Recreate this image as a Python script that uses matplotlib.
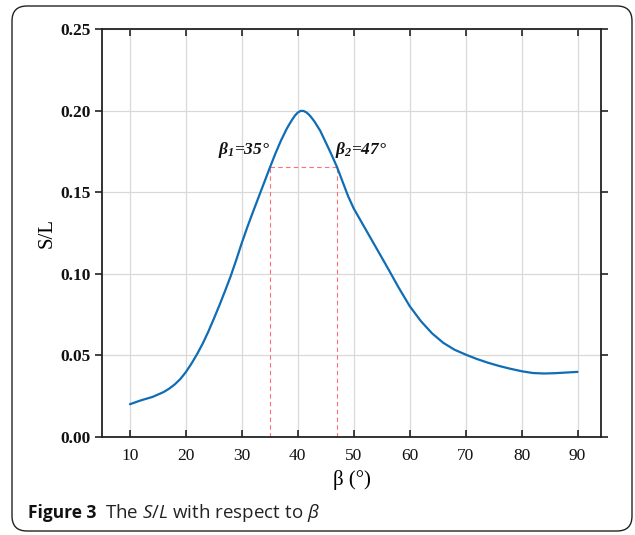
import matplotlib
matplotlib.use("Agg")
import matplotlib.pyplot as plt
from matplotlib.patches import FancyBboxPatch

# S/L ratio as a function of the angle beta (degrees)
beta = [10, 12, 14, 16, 17, 18, 19, 20, 21, 22, 23, 24, 25, 26, 27, 28, 29, 30,
        31, 32, 33, 34, 35, 36, 37, 38, 38.5, 39, 39.5, 40, 40.5, 41, 41.5, 42,
        42.5, 43, 44, 45, 46, 47, 48, 49, 50, 52, 54, 56, 58, 60, 62, 64, 66,
        68, 70, 72, 74, 76, 78, 80, 82, 84, 86, 88, 90]
s_over_l = [0.0201, 0.0225, 0.0245, 0.0275, 0.0296, 0.0322, 0.0355, 0.0398,
            0.0450, 0.0508, 0.0572, 0.0645, 0.0725, 0.0808, 0.0895, 0.0985,
            0.1085, 0.1190, 0.1288, 0.1380, 0.1470, 0.1560, 0.1650, 0.1737,
            0.1817, 0.1887, 0.1917, 0.1945, 0.1970, 0.1988, 0.1998, 0.1998,
            0.1990, 0.1975, 0.1955, 0.1932, 0.1877, 0.1805, 0.1732, 0.1655,
            0.1565, 0.1475, 0.1400, 0.1280, 0.1160, 0.1040, 0.0917, 0.0802,
            0.0710, 0.0635, 0.0577, 0.0535, 0.0505, 0.0478, 0.0455, 0.0435,
            0.0418, 0.0403, 0.0392, 0.0389, 0.0391, 0.0395, 0.0399]

beta_1 = 35
beta_2 = 47
level = 0.1652

x_ticks = [10, 20, 30, 40, 50, 60, 70, 80, 90]
y_ticks = [0.00, 0.05, 0.10, 0.15, 0.20, 0.25]

plt.rcParams["mathtext.fontset"] = "custom"
plt.rcParams["mathtext.rm"] = "Open Sans"
plt.rcParams["mathtext.it"] = "Open Sans:italic"
plt.rcParams["mathtext.bf"] = "Liberation Serif:bold:italic"

fig = plt.figure(figsize=(6.35, 5.35), dpi=100)
ax = fig.add_axes([0.1606, 0.1832, 0.7859, 0.7626])

ax.plot(beta, s_over_l, color="#0f6db5", lw=1.6, zorder=3,
        solid_joinstyle="round", solid_capstyle="round")

# dashed guide lines marking the two angles
dash = dict(color="#ff7070", lw=0.8, ls=(0, (4, 3)), zorder=2)
ax.plot([beta_1, beta_2], [level, level], **dash)
ax.plot([beta_1, beta_1], [0, level], **dash)
ax.plot([beta_2, beta_2], [0, level], **dash)

ann = dict(family="Liberation Serif", weight="bold", style="italic",
           fontsize=12.5, color="#111111")
ax.text(beta_1 + 0.1, 0.1695, r"$\mathbf{\beta_1}$=35°", ha="right", va="bottom", **ann)
ax.text(beta_2 - 0.4, 0.1695, r"$\mathbf{\beta_2}$=47°", ha="left", va="bottom", **ann)

ax.set_xlim(5, 94.2)
ax.set_ylim(0, 0.25)
ax.set_xticks(x_ticks)
ax.set_yticks(y_ticks)
ax.set_xticklabels([str(v) for v in x_ticks], family="Liberation Serif", fontsize=12.5)
ax.set_yticklabels([f"{v:.2f}" for v in y_ticks], family="Liberation Serif",
                   fontsize=12.5, weight="bold")

ax.grid(True, color="#d9d9d9", lw=0.9, zorder=0)
ax.set_axisbelow(True)
for s in ax.spines.values():
    s.set_linewidth(1.3)
    s.set_color("#222222")

ax.tick_params(axis="x", direction="in", top=True, bottom=True, length=5,
               width=1.2, pad=8, colors="#222222")
ax.tick_params(axis="y", direction="out", left=True, right=True, length=5,
               width=1.2, pad=3, colors="#222222")
ax.tick_params(axis="both", labelcolor="#111111")

ax.set_xlabel("β (°)", family="Liberation Serif", fontsize=15, labelpad=4)
ax.set_ylabel("S/L", family="Liberation Serif", fontsize=15, labelpad=3)

# caption and frame
cap_y = 1 - 518 / 535
fig.text(28 / 635, cap_y, "Figure 3", family="Open Sans", weight="bold",
         fontsize=12.5, va="baseline", ha="left", color="#111111")
fig.text(105 / 635, cap_y, r"The $S/L$ with respect to $\beta$",
         family="Open Sans", fontsize=13.5, va="baseline", ha="left", color="#222222")

frame = FancyBboxPatch((0.12, 0.04), 6.20, 5.25,
                       boxstyle="round,pad=0,rounding_size=0.15",
                       transform=fig.dpi_scale_trans, fill=False,
                       edgecolor="#222222", lw=1.0)
fig.patches.append(frame)

fig.savefig("out.png", dpi=100)
